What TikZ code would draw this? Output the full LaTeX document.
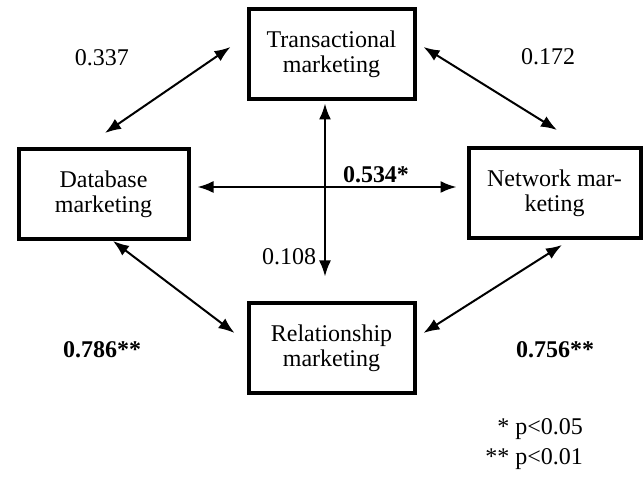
\documentclass[tikz,border=0pt]{standalone}
\usepackage{fontspec}
\setmainfont{Liberation Serif}
\usetikzlibrary{arrows.meta,calc}

\begin{document}
\begin{tikzpicture}[x=0.5pt,y=-0.5pt,
    box/.style={draw,line width=2pt,align=center,minimum width=83pt,minimum height=45pt,
                inner sep=0pt,font=\fontsize{12}{12.5}\selectfont},
    coef/.style={font=\fontsize{12}{14}\selectfont},
    link/.style={{Latex[length=8pt,width=6pt]}-{Latex[length=8pt,width=6pt]},line width=1pt}]
    \useasboundingbox (0,0) rectangle (644,480);

    \node[box] (tr) at (331.5,54.5)  {Transactional\\marketing};
    \node[box,minimum width=85pt] (db) at (103.5,194) {Database\\marketing};
    \node[box,minimum width=86pt] (nw) at (554.5,193) {Network mar-\\keting};
    \node[box] (rl) at (331.5,348.5) {Relationship\\marketing};

    \begin{scope}[link]
        \draw ($(db.north)+(1.5,-14)$) -- ($(tr.west)+(-16,-7.5)$);
        \draw ($(tr.east)+(7,-7.5)$)    -- ($(nw.north)+(2.5,-16)$);
        \draw ($(db.east)+(7,-7)$)      -- ($(nw.west)+(-10,-6)$);
        \draw ($(tr.south)+(-6.5,2)$)   -- ($(rl.north)+(-6.5,-25)$);
        \draw ($(db.south)+(9.5,0)$)    -- ($(rl.west)+(-12,-15.5)$);
        \draw ($(nw.south)+(7.5,5)$)    -- ($(rl.east)+(7,-15.5)$);
    \end{scope}

    \node[coef] (c337) at (102,58)  {0.337};
    \node[coef] (c172) at (548,57)  {0.172};
    \node[coef] (c534) at (376,175) {\textbf{0.534*}};
    \node[coef] (c108) at (289,257) {0.108};
    \node[coef] (c786) at (102,350) {\textbf{0.786**}};
    \node[coef] (c756) at (555,350) {\textbf{0.756**}};

    \node[coef,anchor=base east] (p05) at (590,435) {* p<0.05};
    \node[coef,anchor=base east] (p01) at (590,465) {** p<0.01};
\end{tikzpicture}
\end{document}
